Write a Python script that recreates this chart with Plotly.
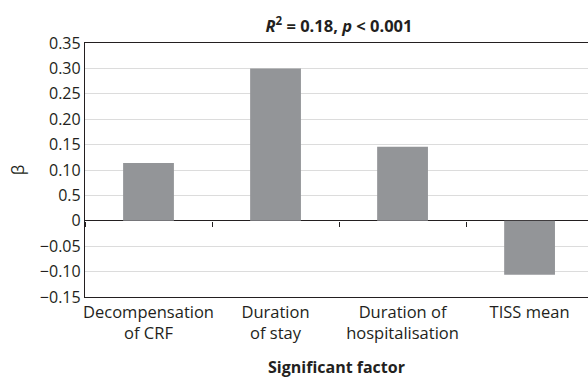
import plotly.graph_objects as go

categories = ["Decompensation<br>of CRF", "Duration<br>of stay", "Duration of<br>hospitalisation", "TISS mean"]
beta_values = [0.114, 0.300, 0.146, -0.106]
y_tick_vals = [-0.15, -0.10, -0.05, 0, 0.05, 0.10, 0.15, 0.20, 0.25, 0.30, 0.35]
y_tick_text = ["\u22120.15", "\u22120.10", "\u22120.05", "0", "0.5", "0.10", "0.15", "0.20", "0.25", "0.30", "0.35"]
boundary_ticks = [-0.5, 0.5, 1.5, 2.5, 3.5]

FONT = "Open Sans"
TXT = "#231f20"
fig = go.Figure()
fig.add_trace(go.Bar(x=list(range(len(categories))), y=beta_values,
                     marker=dict(color="#939598", line=dict(width=0)), width=0.4,
                     showlegend=False, hoverinfo="skip"))
# invisible trace for the zero-crossing axis ticks
fig.add_trace(go.Scatter(x=[0], y=[0], xaxis="x2", mode="markers",
                         marker=dict(opacity=0), showlegend=False, hoverinfo="skip"))

x_range = [-0.5, 3.46]
y_min, y_max = -0.15, 0.35
fig.update_layout(
    width=588, height=378,
    margin=dict(l=85, r=0, t=43, b=81),
    paper_bgcolor="white", plot_bgcolor="white",
    font=dict(family=FONT, color=TXT),
    title=dict(text="<b><i>R</i><sup>2</sup> = 0.18, <i>p</i> &lt; 0.001</b>",
               x=339 / 588, xanchor="center", y=1 - 26 / 378, yanchor="middle",
               font=dict(size=16.5, family=FONT, color=TXT)),
    xaxis=dict(range=x_range, tickmode="array", tickvals=list(range(len(categories))),
               ticktext=categories, ticks="", showgrid=False, zeroline=False,
               showline=True, mirror=True, linecolor=TXT, linewidth=1.3,
               tickfont=dict(size=16.5, family=FONT, color=TXT),
               title=dict(text="<b>Significant factor</b>", standoff=22,
                          font=dict(size=16, family=FONT, color=TXT))),
    xaxis2=dict(range=x_range, overlaying="x", anchor="free",
                position=(0 - y_min) / (y_max - y_min),
                tickmode="array", tickvals=boundary_ticks, ticks="outside", ticklen=5,
                tickcolor=TXT, tickwidth=1, showticklabels=False,
                showgrid=False, zeroline=False, showline=False),
    yaxis=dict(range=[y_min, y_max], tickmode="array", tickvals=y_tick_vals,
               ticktext=y_tick_text, showgrid=True, gridcolor="#dcdcdc", gridwidth=1,
               zeroline=True, zerolinecolor=TXT, zerolinewidth=1.3,
               showline=True, linecolor=TXT, linewidth=1.3, ticks="",
               tickfont=dict(size=16, family=FONT, color=TXT),
               title=dict(text="\u03b2", standoff=10,
                          font=dict(size=17, family=FONT, color=TXT))),
)
fig.write_html("out.html")
